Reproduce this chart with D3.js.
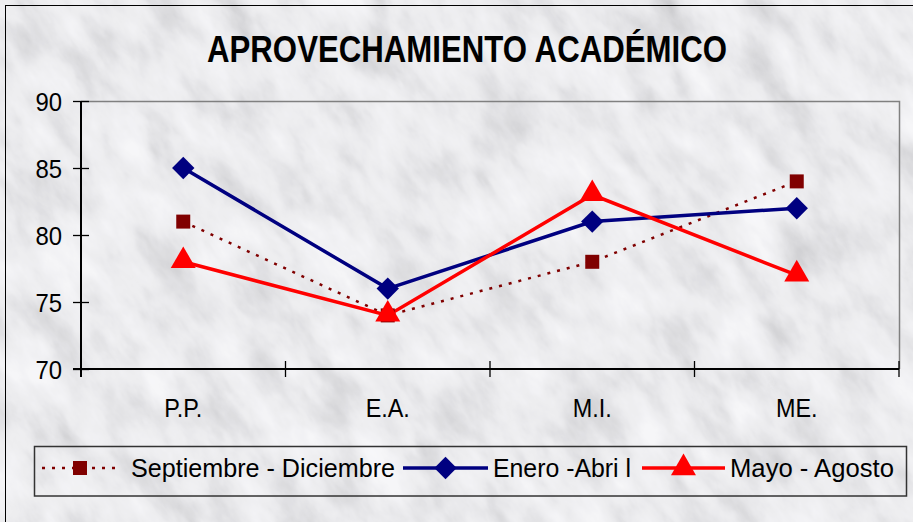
<!DOCTYPE html>
<html><head><meta charset="utf-8">
<script src="https://cdn.jsdelivr.net/npm/d3@7"></script>
<style>html,body{margin:0;padding:0;background:#fff;}svg{display:block;}</style>
</head><body>
<script>
const categories = ["P.P.", "E.A.", "M.I.", "ME."];
const seriesNames = ["Septiembre - Diciembre", "Enero -Abri l", "Mayo - Agosto"];
const sepDic = [81, 74, 78, 84];
const eneAbr = [85, 76, 81, 82];
const mayAgo = [78, 74, 83, 77];
const yTicks = [70, 75, 80, 85, 90];
const titleText = "APROVECHAMIENTO ACADÉMICO";

const W = 913, H = 522;
const svg = d3.select("body").append("svg").attr("width", W).attr("height", H);
const defs = svg.append("defs");

// marble texture
const f = defs.append("filter").attr("id","marble").attr("filterUnits","userSpaceOnUse")
  .attr("x",-600).attr("y",-600).attr("width",2200).attr("height",2000);
f.append("feTurbulence").attr("type","fractalNoise").attr("baseFrequency","0.03 0.014").attr("numOctaves",5).attr("seed",11).attr("result","t");
f.append("feColorMatrix").attr("type","matrix")
  .attr("values","0.33 0.33 0.33 0 0  0.33 0.33 0.33 0 0  0.33 0.33 0.33 0 0  0 0 0 0 1").attr("result","g");
const ct = f.append("feComponentTransfer");
const tbl = "0.42 0.55 0.7 0.84 0.92 0.95 0.96";
ct.append("feFuncR").attr("type","table").attr("tableValues",tbl);
ct.append("feFuncG").attr("type","table").attr("tableValues",tbl);
ct.append("feFuncB").attr("type","table").attr("tableValues","0.44 0.57 0.72 0.86 0.94 0.97 0.98");

const clip = defs.append("clipPath").attr("id","cl");
clip.append("rect").attr("x",0).attr("y",0).attr("width",W).attr("height",H);
svg.append("g").attr("clip-path","url(#cl)")
  .append("g").attr("transform","rotate(-35 456 261)")
  .append("rect").attr("x",-500).attr("y",-500).attr("width",1900).attr("height",1600)
  .attr("fill","#ddd").attr("filter","url(#marble)");

// outer border
svg.append("rect").attr("x",5.5).attr("y",5.5).attr("width",W).attr("height",H)
  .attr("fill","none").attr("stroke","#000").attr("stroke-width",1);

const font = "Liberation Sans, Arial, sans-serif";
// title
svg.append("text").attr("x",467).attr("y",62).attr("text-anchor","middle")
  .attr("font-family",font).attr("font-weight","bold")
  .attr("font-size",37).attr("textLength",520).attr("lengthAdjust","spacingAndGlyphs")
  .attr("fill","#000").text(titleText);

const plot = {l:81, t:101, r:899, b:369};
const x = d3.scaleBand().domain(categories).range([plot.l, plot.r]);
const y = d3.scaleLinear().domain([70, 90]).range([plot.b, plot.t]);

// plot frame top/right
svg.append("path").attr("d",`M${plot.l},${plot.t+0.5}H${plot.r+0.5}V${plot.b}`)
  .attr("fill","none").attr("stroke","#808080").attr("stroke-width",1.5);

// y axis
const yAx = svg.append("g").attr("transform",`translate(${plot.l},0)`)
  .call(d3.axisLeft(y).tickValues(yTicks).tickSize(8).tickPadding(11));
yAx.selectAll(".tick line").attr("x2",8).attr("x1",-8).attr("stroke","#000").attr("stroke-width",1.3);
yAx.select(".domain").attr("stroke","#000").attr("stroke-width",2).attr("d",`M0,${plot.t}V${plot.b+8}`);
yAx.selectAll(".tick text").attr("font-family",font).attr("font-size",26).attr("fill","#000")
  .attr("x",0).attr("dy","0.36em").attr("text-anchor","end")
  .attr("transform","translate(-19,0) scale(0.92,1)");

// x axis
const xAx = svg.append("g").attr("transform",`translate(0,${plot.b})`)
  .call(d3.axisBottom(x).tickSize(0).tickPadding(30));
xAx.select(".domain").attr("stroke","#000").attr("stroke-width",2).attr("d",`M${plot.l-8},0H${plot.r}`);
xAx.selectAll(".tick text").attr("font-family",font).attr("font-size",26).attr("fill","#000")
  .attr("y",0).attr("dy","0.71em").attr("transform","translate(0,30) scale(0.9,1)");
// category boundary ticks
const bounds = categories.map(c => x(c)).concat([plot.r]).slice(1);
xAx.selectAll(".btick").data(bounds).enter().append("line").attr("class","btick")
  .attr("x1",d=>d).attr("x2",d=>d).attr("y1",-8).attr("y2",8).attr("stroke","#000").attr("stroke-width",1.3);

const cx = c => x(c) + x.bandwidth()/2;
const line = d3.line().x((d,i)=>cx(categories[i])).y(d=>y(d));

const series = [
  {name: seriesNames[0], data: sepDic, color:"#800000", width:2.5, dash:"3,7", marker:"square"},
  {name: seriesNames[1], data: eneAbr, color:"#000080", width:3.5, dash:null, marker:"diamond"},
  {name: seriesNames[2], data: mayAgo, color:"#FF0000", width:3.5, dash:null, marker:"triangle"}
];
const symFor = m => m==="square" ? d3.symbol(d3.symbolSquare, 196)
  : m==="diamond" ? d3.symbol(d3.symbolSquare, 250) : d3.symbol(d3.symbolTriangle, 270);
const rot = m => m==="diamond" ? " rotate(45)" : "";

series.forEach(s => {
  svg.append("path").datum(s.data).attr("d", line).attr("fill","none")
    .attr("stroke", s.color).attr("stroke-width", s.width)
    .attr("stroke-dasharray", s.dash);
});
series.forEach(s => {
  svg.selectAll(null).data(s.data).enter().append("path")
    .attr("d", symFor(s.marker)())
    .attr("transform",(d,i)=>`translate(${cx(categories[i])},${y(d) + (s.marker==="triangle"?-1:0)})${rot(s.marker)}`)
    .attr("fill", s.color);
});

// legend
const lg = svg.append("g");
lg.append("rect").attr("x",34.5).attr("y",446.5).attr("width",872).attr("height",49.5)
  .attr("fill","none").attr("stroke","#333").attr("stroke-width",1.5);
const legendItems = [
  {x0:42, x1:118, tx:131, tl:264},
  {x0:403, x1:488, tx:493, tl:138},
  {x0:642, x1:725, tx:730, tl:164}
];
const ly = 468;
series.forEach((s,i) => {
  const it = legendItems[i];
  lg.append("line").attr("x1",it.x0).attr("x2",it.x1).attr("y1",ly).attr("y2",ly)
    .attr("stroke",s.color).attr("stroke-width",s.width).attr("stroke-dasharray",s.dash);
  lg.append("path").attr("d",symFor(s.marker)())
    .attr("transform",`translate(${(it.x0+it.x1)/2},${ly})${rot(s.marker)}`).attr("fill",s.color);
  lg.append("text").attr("x",it.tx).attr("y",ly).attr("dy","0.36em")
    .attr("font-family",font).attr("font-size",26).attr("fill","#000")
    .attr("textLength",it.tl).attr("lengthAdjust","spacingAndGlyphs").text(s.name);
});
</script>
</body></html>
